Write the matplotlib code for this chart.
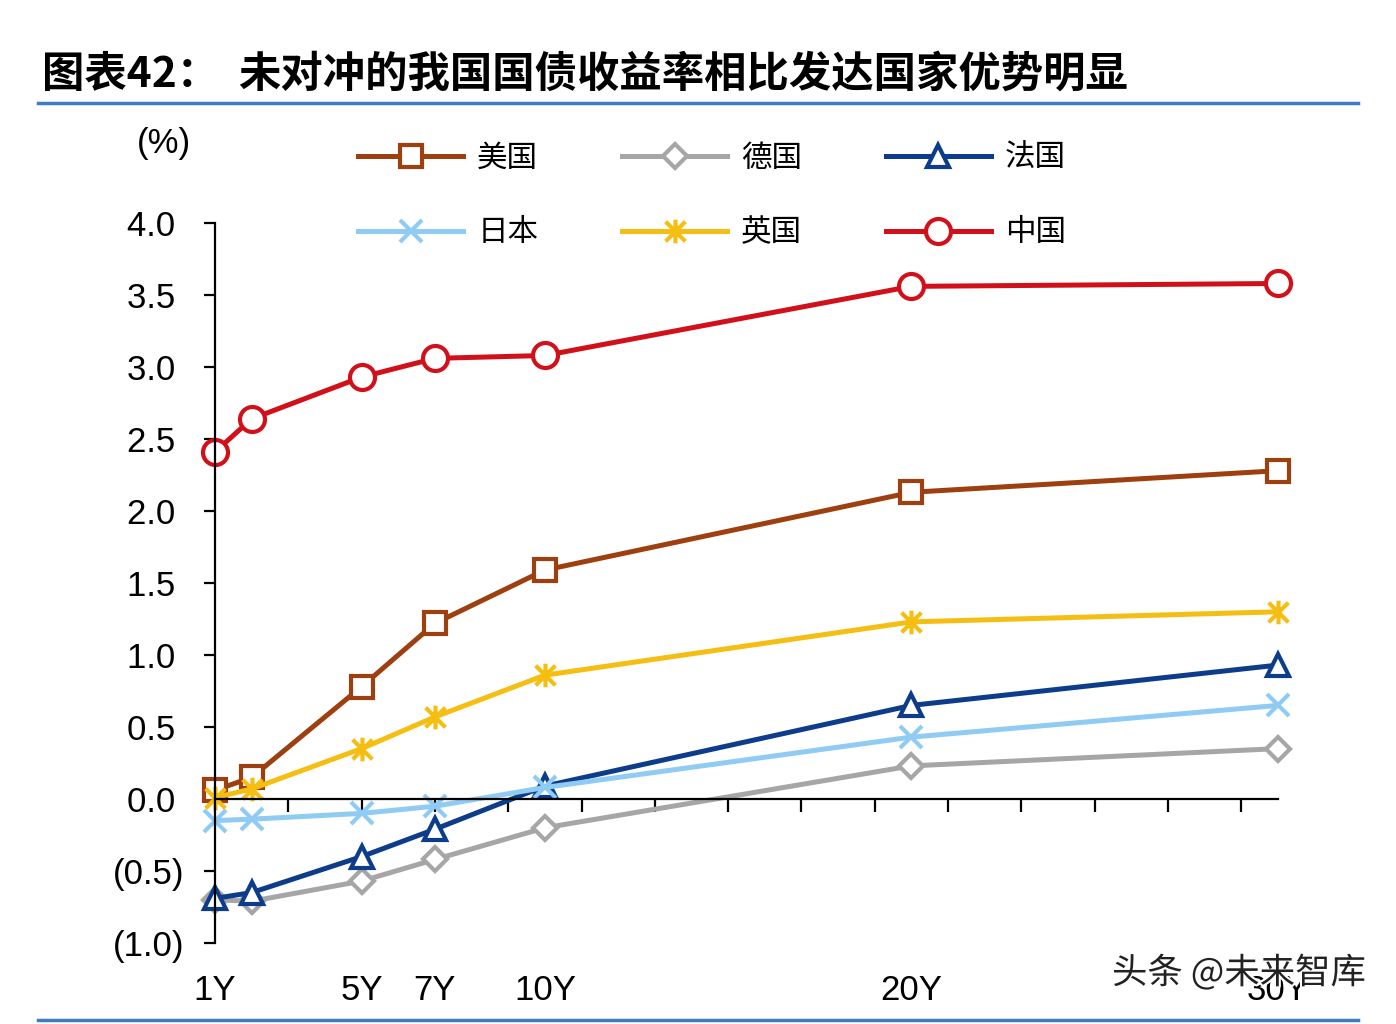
import matplotlib
matplotlib.use('Agg')
import matplotlib.pyplot as plt
import matplotlib.patheffects as pe
from matplotlib.path import Path
from matplotlib.lines import Line2D
import numpy as np

plt.rcParams['font.family'] = ['Liberation Sans', 'Noto Sans CJK SC', 'DejaVu Sans']

# Data
tenors = [1, 2, 5, 7, 10, 20, 30]
tenor_labels = ['1Y', '5Y', '7Y', '10Y', '20Y', '30Y']
label_pos = [1, 5, 7, 10, 20, 30]

us = [0.06, 0.15, 0.78, 1.22, 1.59, 2.13, 2.28]
germany = [-0.70, -0.71, -0.57, -0.42, -0.20, 0.23, 0.35]
france = [-0.69, -0.65, -0.40, -0.21, 0.09, 0.65, 0.93]
japan = [-0.15, -0.14, -0.10, -0.05, 0.08, 0.43, 0.65]
uk = [0.01, 0.07, 0.35, 0.57, 0.86, 1.23, 1.30]
china = [2.41, 2.64, 2.93, 3.06, 3.08, 3.56, 3.58]

# star marker like excel (x plus vertical bar)
star = Path([(-0.5, -0.5), (0.5, 0.5), (-0.5, 0.5), (0.5, -0.5), (0, -0.6), (0, 0.6)],
            [Path.MOVETO, Path.LINETO, Path.MOVETO, Path.LINETO, Path.MOVETO, Path.LINETO])

series = [
    ('美国', us, '#9E3F10', 's', 16, 'white'),
    ('德国', germany, '#A6A6A6', 'D', 12, 'white'),
    ('法国', france, '#0D3D8A', '^', 16, 'white'),
    ('日本', japan, '#8FCBF3', 'x', 16, 'none'),
    ('英国', uk, '#F5BE12', star, 17, 'none'),
    ('中国', china, '#D2101A', 'o', 18, 'white'),
]

fig = plt.figure(figsize=(13.96, 10.24), dpi=100)
ax = fig.add_axes([215/1396, 1 - 943/1024, (1278-215)/1396, (943-223)/1024])

handles = {}
for name, vals, col, mk, ms, fc in series:
    h, = ax.plot(tenors, vals, color=col, lw=3.6, marker=mk, ms=ms,
                 mfc=fc, mec=col, mew=3, clip_on=False, label=name)
    handles[name] = h

ax.set_xlim(1, 30)
ax.set_ylim(-1, 4)
yt = np.arange(-1, 4.01, 0.5)
ax.set_yticks(yt)
ax.set_yticklabels(['(%.1f)' % abs(v) if v < -1e-9 else '%.1f ' % v for v in yt])

for s in ['top', 'right']:
    ax.spines[s].set_visible(False)
ax.spines['bottom'].set_position(('data', 0))
ax.spines['left'].set_linewidth(1.6)
ax.spines['bottom'].set_linewidth(1.6)
ax.set_xticks(range(3, 30, 2))
ax.tick_params(axis='x', direction='out', length=9, width=1.6, labelbottom=False)
ax.tick_params(axis='y', direction='out', length=8, width=1.6, labelsize=25, pad=14)

sec = ax.secondary_xaxis('bottom')
sec.set_xticks(label_pos)
sec.set_xticklabels(tenor_labels)
sec.tick_params(length=0, labelsize=25, pad=22)
sec.spines['bottom'].set_visible(False)

# legend
order = ['美国', '日本', '德国', '英国', '法国', '中国']
fig.legend([handles[n] for n in order], order, ncol=3, frameon=False,
           loc='upper left', bbox_to_anchor=(358/1396, 1 - 143/1024),
           prop={'family': 'Noto Sans CJK SC', 'size': 22},
           handlelength=3.45, handletextpad=0.45, columnspacing=2.74,
           labelspacing=1.42, borderpad=0, borderaxespad=0)

fig.text(137/1396, 1 - 143/1024, '(%)', fontsize=25, va='center', ha='left')

# title and rules
fig.text(42/1396, 1 - 75/1024, '图表42：', fontsize=30.5, fontweight='bold',
         family=['Noto Sans CJK SC'], va='center', ha='left')
fig.text(238/1396, 1 - 75/1024, '未对冲的我国国债收益率相比发达国家优势明显',
         fontsize=30.5, fontweight='bold', family=['Noto Sans CJK SC'],
         va='center', ha='left')
fig.add_artist(Line2D([38/1396, 1358/1396], [1 - 103/1024] * 2, color='#3D7CC0', lw=2.5))
fig.add_artist(Line2D([38/1396, 1358/1396], [1 - 1020/1024] * 2, color='#3D7CC0', lw=2.5))

fig.text(1112/1396, 1 - 973/1024, '头条 @未来智库', fontsize=25.5, color='#222222',
         family=['Noto Sans CJK SC'], va='center', ha='left', zorder=10,
         path_effects=[pe.withStroke(linewidth=3, foreground='white')])

fig.savefig('out.png', dpi=100, facecolor='white')
